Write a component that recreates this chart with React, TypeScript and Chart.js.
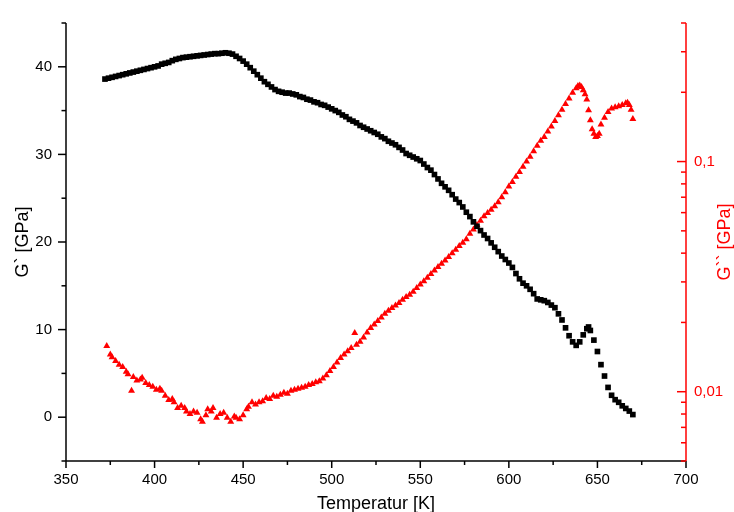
import React, { useEffect, useRef } from "react";
import { Chart, registerables } from "chart.js";

Chart.register(...registerables);

// Storage modulus G' (black squares), temperature in K
const tempStorage = [
  372, 374, 376, 378, 380, 382, 384, 386, 388, 390,
  392, 394, 396, 398, 400, 402, 404, 406, 408, 410,
  412, 414, 416, 418, 420, 422, 424, 426, 428, 430,
  432, 434, 436, 438, 440, 442, 444, 446, 448, 450,
  452, 454, 456, 458, 460, 462, 464, 466, 468, 470,
  472, 474, 476, 478, 480, 482, 484, 486, 488, 490,
  492, 494, 496, 498, 500, 502, 504, 506, 508, 510,
  512, 514, 516, 518, 520, 522, 524, 526, 528, 530,
  532, 534, 536, 538, 540, 542, 544, 546, 548, 550,
  552, 554, 556, 558, 560, 562, 564, 566, 568, 570,
  572, 574, 576, 578, 580, 582, 584, 586, 588, 590,
  592, 594, 596, 598, 600, 602, 604, 606, 608, 610,
  612, 614, 616, 618, 620, 622, 624, 626, 628, 630,
  632, 634, 636, 638, 640, 642, 644, 645, 646, 648,
  650, 652, 654, 656, 658, 660, 662, 664, 666, 668,
  670,
];
const storageModulus = [
  38.6, 38.7, 38.8, 38.9, 39.0, 39.1, 39.2, 39.3, 39.4, 39.5,
  39.6, 39.7, 39.8, 39.9, 40.0, 40.1, 40.3, 40.4, 40.5, 40.7,
  40.85, 40.95, 41.05, 41.1, 41.15, 41.2, 41.25, 41.3, 41.35, 41.4,
  41.45, 41.5, 41.5, 41.55, 41.6, 41.55, 41.45, 41.2, 40.95, 40.65,
  40.3, 39.9, 39.5, 39.1, 38.7, 38.3, 38.0, 37.7, 37.4, 37.2,
  37.1, 37.0, 37.0, 36.9, 36.8, 36.6, 36.5, 36.3, 36.2, 36.0,
  35.9, 35.7, 35.6, 35.4, 35.2, 35.0, 34.8, 34.5, 34.3, 34.0,
  33.8, 33.6, 33.3, 33.1, 32.9, 32.7, 32.5, 32.3, 32.0, 31.8,
  31.5, 31.3, 31.1, 30.8, 30.5, 30.1, 29.9, 29.7, 29.5, 29.3,
  28.9, 28.5, 28.2, 27.7, 27.2, 26.7, 26.3, 25.9, 25.4, 24.9,
  24.5, 24.0, 23.4, 22.9, 22.3, 21.8, 21.3, 20.8, 20.4, 19.9,
  19.4, 18.9, 18.4, 18.0, 17.6, 17.1, 16.4, 15.8, 15.3, 15.0,
  14.6, 14.1, 13.5, 13.4, 13.3, 13.1, 12.8, 12.5, 11.8, 11.1,
  10.2, 9.3, 8.6, 8.2, 8.6, 9.4, 10.1, 10.3, 9.9, 8.8,
  7.5, 6.0, 4.7, 3.4, 2.5, 2.0, 1.7, 1.3, 1.0, 0.7,
  0.3,
];

// Loss modulus G'' (red triangles), temperature in K
const tempLoss = [
  373, 375, 376, 378, 380, 382, 384, 385, 387, 388,
  390, 392, 393, 395, 397, 399, 401, 403, 404, 406,
  408, 410, 411, 413, 415, 417, 418, 420, 422, 424,
  426, 427, 429, 430, 432, 433, 435, 437, 439, 441,
  443, 445, 446, 448, 450, 452, 453, 455, 457, 459,
  461, 463, 465, 467, 469, 471, 473, 475, 477, 479,
  481, 483, 485, 487, 489, 491, 493, 495, 497, 499,
  501, 503, 505, 507, 509, 511, 513, 514, 516, 518,
  520, 522, 524, 526, 528, 530, 532, 534, 536, 538,
  540, 542, 544, 546, 548, 550, 552, 554, 556, 558,
  560, 562, 564, 566, 568, 570, 572, 574, 576, 578,
  580, 582, 584, 586, 588, 590, 592, 594, 596, 598,
  600, 602, 604, 606, 608, 610, 612, 614, 616, 618,
  620, 622, 624, 626, 628, 630, 632, 634, 636, 638,
  639, 640, 641, 642, 643, 644, 645, 646, 647, 648,
  649, 650, 651, 652, 654, 656, 658, 660, 662, 664,
  666, 667, 668, 669, 670,
];
const lossModulus = [
  0.0158, 0.0145, 0.0141, 0.0136, 0.0131, 0.0128, 0.0122, 0.0119, 0.0101, 0.0116,
  0.0112, 0.0113, 0.0115, 0.0109, 0.0107, 0.0105, 0.0102, 0.0103, 0.0101, 0.0096,
  0.0092, 0.0093, 0.009, 0.0085, 0.0087, 0.0085, 0.0082, 0.008, 0.0082, 0.0081,
  0.0076, 0.0074, 0.0079, 0.0084, 0.0082, 0.0085, 0.0077, 0.008, 0.0081, 0.0077,
  0.0074, 0.0078, 0.0077, 0.0076, 0.0079, 0.0084, 0.0086, 0.009, 0.0088, 0.009,
  0.0091, 0.0094, 0.0093, 0.0096, 0.0095, 0.0097, 0.0099, 0.0098, 0.0101, 0.0102,
  0.0103, 0.0104, 0.0105, 0.0107, 0.0108, 0.011, 0.0111, 0.0114, 0.0118, 0.0123,
  0.0128, 0.0134, 0.014, 0.0145, 0.015, 0.0155, 0.018, 0.016, 0.0165, 0.0172,
  0.0181, 0.0189, 0.0196, 0.0203, 0.021, 0.0218, 0.0225, 0.0231, 0.0237, 0.0243,
  0.0251, 0.0258, 0.0264, 0.0272, 0.0282, 0.0292, 0.0302, 0.0313, 0.0325, 0.0336,
  0.0348, 0.036, 0.0372, 0.0385, 0.04, 0.0414, 0.043, 0.0444, 0.046, 0.0486,
  0.0507, 0.053, 0.0553, 0.0578, 0.0598, 0.0618, 0.064, 0.0665, 0.07, 0.0735,
  0.078, 0.0815, 0.086, 0.09, 0.095, 0.1, 0.105, 0.111, 0.117, 0.123,
  0.128, 0.135, 0.142, 0.15, 0.159, 0.168, 0.178, 0.188, 0.199, 0.208,
  0.213, 0.214, 0.211, 0.204, 0.196, 0.186, 0.167, 0.151, 0.138, 0.132,
  0.128, 0.129, 0.132, 0.145, 0.155, 0.164, 0.17, 0.172, 0.174, 0.176,
  0.179, 0.18, 0.176, 0.168, 0.153,
];

// Axis ticks
const xTickValues = [350, 400, 450, 500, 550, 600, 650, 700];
const xMinorTicks = [375, 425, 475, 525, 575, 625, 675];
const leftTickValues = [0, 10, 20, 30, 40];
const leftMinorTicks = [-5, 5, 15, 25, 35, 45];
const rightTickValues = [0.01, 0.1];
const rightMinorTicks = [
  0.005, 0.006, 0.007, 0.008, 0.009, 0.02, 0.03, 0.04, 0.05, 0.06, 0.07, 0.08,
  0.09, 0.2, 0.3, 0.4,
];

const xTitle = "Temperatur [K]";
const leftTitle = "G` [GPa]";
const rightTitle = "G`` [GPa]";

const FONT = '"Liberation Sans", Arial, sans-serif';
const RED = "#ff0000";

const axesPlugin = {
  id: "originAxes",
  afterDraw(chart: any) {
    const { ctx, chartArea, scales } = chart;
    const { left, right, top, bottom } = chartArea;
    const line = (x1: number, y1: number, x2: number, y2: number) => {
      ctx.beginPath();
      ctx.moveTo(x1, y1);
      ctx.lineTo(x2, y2);
      ctx.stroke();
    };
    ctx.save();
    ctx.lineWidth = 1.5;
    // left axis
    ctx.strokeStyle = "#000";
    line(left, top, left, bottom);
    leftTickValues.forEach((v) => {
      const y = scales.y.getPixelForValue(v);
      line(left - 8, y, left, y);
    });
    leftMinorTicks.forEach((v) => {
      const y = scales.y.getPixelForValue(v);
      line(left - 4.5, y, left, y);
    });
    // bottom axis
    line(left, bottom, right, bottom);
    xTickValues.forEach((v) => {
      const x = scales.x.getPixelForValue(v);
      line(x, bottom, x, bottom + 7);
    });
    xMinorTicks.forEach((v) => {
      const x = scales.x.getPixelForValue(v);
      line(x, bottom, x, bottom + 4);
    });
    // right axis
    ctx.strokeStyle = RED;
    line(right, top, right, bottom);
    rightTickValues.forEach((v) => {
      const y = scales.y2.getPixelForValue(v);
      line(right - 9, y, right, y);
    });
    rightMinorTicks.forEach((v) => {
      const y = scales.y2.getPixelForValue(v);
      line(right - 5, y, right, y);
    });
    // titles
    ctx.font = `18px ${FONT}`;
    ctx.textAlign = "center";
    ctx.textBaseline = "middle";
    const midY = (top + bottom) / 2;
    ctx.fillStyle = "#000";
    ctx.save();
    ctx.translate(23, midY);
    ctx.rotate(-Math.PI / 2);
    ctx.fillText(leftTitle, 0, 0);
    ctx.restore();
    ctx.fillStyle = RED;
    ctx.save();
    ctx.translate(chart.width - 9, midY);
    ctx.rotate(-Math.PI / 2);
    ctx.fillText(rightTitle, 0, 0);
    ctx.restore();
    ctx.fillStyle = "#000";
    ctx.textBaseline = "alphabetic";
    ctx.fillText(xTitle, (left + right) / 2, 509);
    ctx.restore();
  },
};

export default function App() {
  const canvasRef = useRef<HTMLCanvasElement | null>(null);

  useEffect(() => {
    if (!canvasRef.current) return;
    const storagePoints = tempStorage.map((t, i) => ({ x: t, y: storageModulus[i] }));
    const lossPoints = tempLoss.map((t, i) => ({ x: t, y: lossModulus[i] }));
    const tickFont = { family: FONT, size: 15 };

    const chart = new Chart(canvasRef.current, {
      type: "scatter",
      data: {
        datasets: [
          {
            label: "G`",
            data: storagePoints,
            yAxisID: "y",
            pointStyle: "rect",
            pointRadius: 4,
            pointBackgroundColor: "#000",
            pointBorderColor: "#000",
            pointBorderWidth: 0,
            showLine: false,
          },
          {
            label: "G``",
            data: lossPoints,
            yAxisID: "y2",
            pointStyle: "triangle",
            pointRadius: 4,
            pointBackgroundColor: RED,
            pointBorderColor: RED,
            pointBorderWidth: 0,
            showLine: false,
          },
        ],
      },
      options: {
        animation: false,
        responsive: false,
        devicePixelRatio: 1,
        layout: { padding: { top: 14, left: 0, right: 0, bottom: 0 } },
        plugins: {
          legend: { display: false },
          tooltip: { enabled: false },
        },
        scales: {
          x: {
            type: "linear",
            position: "bottom",
            min: 350,
            max: 700,
            grid: { display: false, drawTicks: false, tickLength: 0 },
            border: { display: false },
            ticks: { font: tickFont, color: "#000", padding: 10, maxRotation: 0 },
            afterBuildTicks: (s: any) => {
              s.ticks = xTickValues.map((v) => ({ value: v }));
            },
            afterFit: (s: any) => {
              s.height = 51;
            },
          },
          y: {
            type: "linear",
            position: "left",
            min: -5,
            max: 45,
            grid: { display: false, drawTicks: false, tickLength: 0 },
            border: { display: false },
            ticks: { font: tickFont, color: "#000", padding: 14 },
            afterBuildTicks: (s: any) => {
              s.ticks = leftTickValues.map((v) => ({ value: v }));
            },
            afterFit: (s: any) => {
              s.width = 66;
            },
          },
          y2: {
            type: "logarithmic",
            position: "right",
            min: 0.005,
            max: 0.4,
            grid: { display: false, drawTicks: false, tickLength: 0 },
            border: { display: false },
            ticks: {
              font: tickFont,
              color: RED,
              padding: 8,
              callback: (v: any) => String(v).replace(".", ","),
            },
            afterBuildTicks: (s: any) => {
              s.ticks = rightTickValues.map((v) => ({ value: v }));
            },
            afterFit: (s: any) => {
              s.width = 48;
            },
          },
        },
      },
      plugins: [axesPlugin],
    });
    return () => chart.destroy();
  }, []);

  return (
    <div
      style={{
        position: "absolute",
        left: 0,
        top: 0,
        width: 734,
        height: 512,
        background: "#fff",
      }}
    >
      <canvas ref={canvasRef} width={734} height={512} />
    </div>
  );
}
